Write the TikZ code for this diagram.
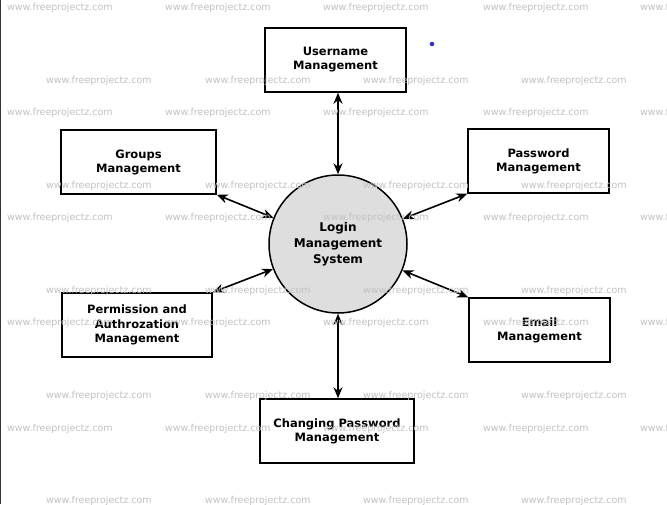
\documentclass[tikz,border=0pt]{standalone}
\usepackage{fontspec}
\setmainfont{DejaVu Sans}
\usetikzlibrary{arrows.meta}
\tikzset{
  procbox/.style={draw=black, line width=1.5pt, fill=white, minimum height=64pt, inner sep=0pt, align=center,
    font=\fontsize{11.5}{14}\selectfont\bfseries},
  mainproc/.style={circle, draw=black, line width=1.5pt, fill=black!13, minimum size=138pt, inner sep=0pt, align=center,
    font=\fontsize{12}{16}\selectfont\bfseries},
  flow/.style={{Stealth[length=11pt,width=9pt]}-{Stealth[length=11pt,width=9pt]}, line width=1.6pt},
  wmark/.style={anchor=west, inner sep=0pt, text=black!24, font=\fontsize{9.5}{10}\selectfont}
}
\begin{document}
\begin{tikzpicture}[x=1pt,y=-1pt]
\useasboundingbox (0,0) rectangle (667,504);
\fill[white] (0,0) rectangle (667,504);
\draw[black!80, line width=1.2pt] (0.6,0) -- (0.6,504);
% nodes
\node[mainproc] (c) at (338,244) {Login\\Management\\System};
\node[procbox, minimum width=141pt] (u) at (335.5,60) {Username\\Management};
\node[procbox, minimum width=155pt] (g) at (138.5,162) {Groups\\Management};
\node[procbox, minimum width=141pt] (p) at (538.5,161) {Password\\Management};
\node[procbox, minimum width=141pt] (e) at (539.5,330) {Email\\Management};
\node[procbox, minimum width=150pt, font=\fontsize{11.5}{14.5}\selectfont\bfseries] (a) at (137,325) {Permission and\\Authrozation\\Management};
\node[procbox, minimum width=154pt] (ch) at (337,431) {Changing Password\\Management};
% connectors
\draw[flow] (c) -- (c |- u.south);
\draw[flow] (c) -- (c |- ch.north);
\draw[flow] (g.south east) -- (c);
\draw[flow] (p.south west) -- (c);
\draw[flow] (a.north east) -- (c);
\draw[flow] (e.north west) -- (c);
% stray dot
\fill[blue!70!black!80] (432,44) circle (2.3pt);
% watermarks (on top, as in the original)
\foreach \yy [count=\r] in {8,113,218,323,429}{
  \foreach \xx [count=\c] in {7,165,323,483,640}{
    \node[wmark] (wa-\r-\c) at (\xx,\yy) {www.freeprojectz.com};
  }
}
\foreach \yy [count=\r] in {81,186,291,396,501}{
  \foreach \xx [count=\c] in {46,205,363,521}{
    \node[wmark] (wb-\r-\c) at (\xx,\yy) {www.freeprojectz.com};
  }
}
\end{tikzpicture}
\end{document}
